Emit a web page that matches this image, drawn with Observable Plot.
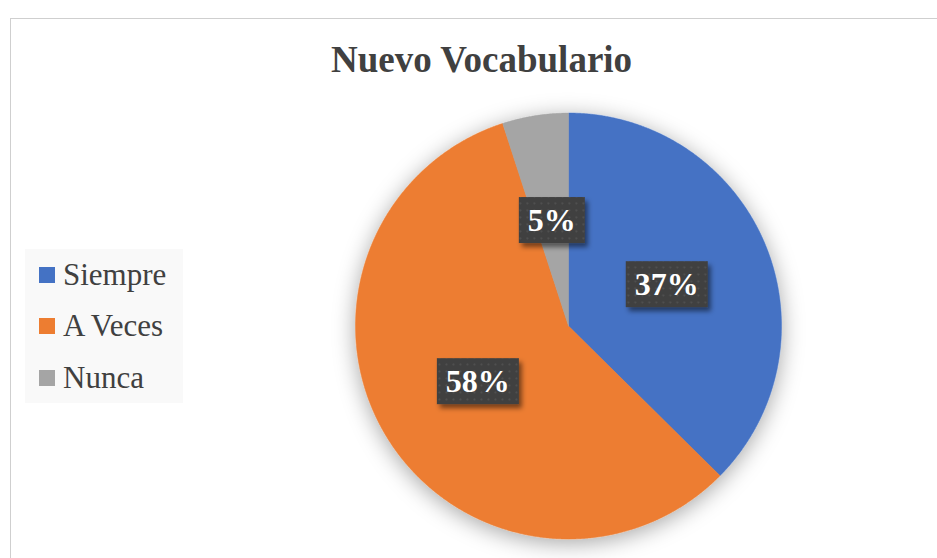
<!DOCTYPE html>
<html>
<head>
<meta charset="utf-8">
<script src="https://cdn.jsdelivr.net/npm/d3@7"></script>
<script src="https://cdn.jsdelivr.net/npm/@observablehq/plot@0.6"></script>
<style>
  html, body { margin: 0; padding: 0; background: #fff; }
  #wrap { position: relative; width: 937px; height: 558px; overflow: hidden; font-family: "Liberation Serif", "Times New Roman", serif; }
  #frame { position: absolute; left: 10px; top: 18px; width: 1000px; height: 600px; border-left: 1.5px solid #cfcfcf; border-top: 1.5px solid #cfcfcf; box-sizing: border-box; }
  #title { position: absolute; left: 0; width: 963px; top: 41px; text-align: center; font-size: 37px; line-height: 37px; font-weight: bold; color: #404040; }
  #legend { position: absolute; left: 25px; top: 249px; width: 158px; height: 154px; background: #f9f9f9; }
  .row { position: absolute; left: 0; width: 158px; height: 51px; }
  .sw { position: absolute; left: 14px; top: 18px; width: 16px; height: 16px; }
  .lb { position: absolute; left: 38px; top: 0; font-size: 31px; line-height: 51px; color: #404040; white-space: nowrap; }
  #chart { position: absolute; left: 0; top: 0; }
</style>
</head>
<body>
<div id="wrap">
  <div id="frame"></div>
  <div id="chart"></div>
  <div id="title"></div>
  <div id="legend"></div>
</div>
<script>
const titleText = "Nuevo Vocabulario";
const categories = ["Siempre", "A Veces", "Nunca"];
const values = [37.4, 57.6, 5.0];
const colors = ["#4472C4", "#ED7D31", "#A5A5A5"];

document.getElementById("title").textContent = titleText;

// legend
const legend = document.getElementById("legend");
categories.forEach((c, i) => {
  const row = document.createElement("div");
  row.className = "row";
  row.style.top = (i * 51.3) + "px";
  const sw = document.createElement("div");
  sw.className = "sw";
  sw.style.background = colors[i];
  const lb = document.createElement("div");
  lb.className = "lb";
  lb.textContent = c;
  row.appendChild(sw); row.appendChild(lb);
  legend.appendChild(row);
});

// pie geometry from data
const arcs = d3.pie().sort(null).value(d => d.value)(categories.map((c, i) => ({cat: c, value: values[i]})));
const total = d3.sum(values);
const slicePts = [];
arcs.forEach(a => {
  const cat = a.data.cat;
  slicePts.push({cat, x: 0, y: 0});
  const n = Math.max(4, Math.ceil((a.endAngle - a.startAngle) / (Math.PI / 720)));
  for (let k = 0; k <= n; k++) {
    const t = a.startAngle + (a.endAngle - a.startAngle) * k / n;
    slicePts.push({cat, x: Math.sin(t), y: Math.cos(t)});
  }
  slicePts.push({cat, x: 0, y: 0});
});
const labels = arcs.map(a => {
  const m = (a.startAngle + a.endAngle) / 2;
  return {cat: a.data.cat, x: 0.5 * Math.sin(m), y: 0.5 * Math.cos(m), text: Math.round(a.data.value / total * 100) + "%"};
});

const svg = Plot.plot({
  width: 937,
  height: 558,
  x: {domain: [-1, 1], range: [355, 781], axis: null},
  y: {domain: [-1, 1], range: [538.5, 112.5], axis: null},
  color: {domain: categories, range: colors},
  style: {background: "transparent", overflow: "visible"},
  marks: [
    Plot.line(slicePts, {x: "x", y: "y", z: "cat", fill: "cat", stroke: "cat", strokeWidth: 0.5, curve: "linear"}),
    Plot.text(labels, {x: "x", y: "y", text: "text", fill: "white", fontSize: 32, fontWeight: "bold", fontFamily: "Liberation Serif, Times New Roman, serif"})
  ]
});
document.getElementById("chart").appendChild(svg);

// decorations: shadows, label boxes
const s = d3.select(svg);
const defs = s.insert("defs", ":first-child");
const f1 = defs.append("filter").attr("id", "pieShadow").attr("x", "-25%").attr("y", "-25%").attr("width", "150%").attr("height", "150%");
f1.append("feDropShadow").attr("dx", 0).attr("dy", 4).attr("stdDeviation", 11).attr("flood-color", "#000").attr("flood-opacity", 0.35);
const f2 = defs.append("filter").attr("id", "boxShadow").attr("x", "-30%").attr("y", "-30%").attr("width", "160%").attr("height", "160%");
f2.append("feDropShadow").attr("dx", 3).attr("dy", 4).attr("stdDeviation", 2.5).attr("flood-color", "#000").attr("flood-opacity", 0.5);
const pat = defs.append("pattern").attr("id", "dots").attr("patternUnits", "userSpaceOnUse").attr("width", 7).attr("height", 7);
pat.append("rect").attr("width", 7).attr("height", 7).attr("fill", "#404040");
pat.append("circle").attr("cx", 3.5).attr("cy", 3.5).attr("r", 1).attr("fill", "#525252");

s.select('g[aria-label="line"]').attr("filter", "url(#pieShadow)");

const tg = s.select('g[aria-label="text"]');
tg.selectAll("text").each(function() {
  const bb = this.getBBox();
  const padX = 9, padY = 5;
  const r = d3.select(this.parentNode).insert("rect", () => this)
    .attr("x", bb.x - padX).attr("y", bb.y - padY)
    .attr("width", bb.width + 2 * padX).attr("height", bb.height + 2 * padY)
    .attr("fill", "url(#dots)")
    .attr("filter", "url(#boxShadow)");
  const tr = this.getAttribute("transform");
  if (tr) r.attr("transform", tr);
});
</script>
</body>
</html>
